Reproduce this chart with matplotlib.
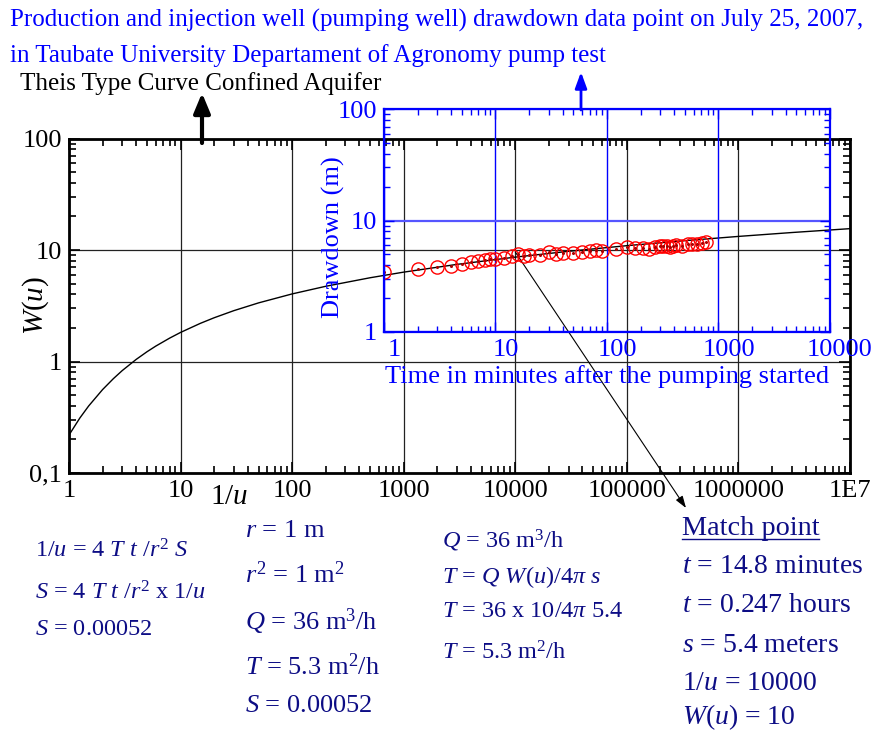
import matplotlib
matplotlib.use("Agg")
import matplotlib.pyplot as plt
import matplotlib.transforms as mtransforms
from matplotlib.lines import Line2D

W, H = 878, 733
BLUE = "#0000ff"
NAVY = "#0d0d85"

plt.rcParams["font.family"] = ["Liberation Serif", "DejaVu Serif"]
plt.rcParams["mathtext.fontset"] = "custom"
plt.rcParams["mathtext.rm"] = "Liberation Serif"
plt.rcParams["mathtext.it"] = "Liberation Serif:italic"
plt.rcParams["mathtext.bf"] = "Liberation Serif:bold"

# Theis type curve
inv_u = [1, 1.25, 1.5, 2, 2.5, 3, 4, 5, 6, 8, 10, 15, 20, 30, 50, 100, 200, 500,
         1e3, 3e3, 1e4, 3e4, 1e5, 3e5, 1e6, 3e6, 1e7]
wu = [0.219, 0.311, 0.399, 0.560, 0.702, 0.829, 1.044, 1.223, 1.375, 1.623, 1.823,
      2.196, 2.468, 2.857, 3.355, 4.038, 4.726, 5.639, 6.332, 7.43, 8.633, 9.73,
      10.936, 12.03, 13.238, 14.34, 15.541]

# field drawdown data (July 25, 2007)
t_min = [1, 2, 3, 4, 5, 6, 7, 8, 9, 10, 12, 14, 16, 18, 20, 25, 30, 35, 40, 50,
         60, 70, 80, 90, 120, 150, 180, 210, 240, 270, 300, 320, 345, 365, 390,
         420, 475, 530, 580, 645, 705, 780]
s_m = [3.44, 3.64, 3.84, 3.87, 4.08, 4.20, 4.29, 4.41, 4.47, 4.47, 4.62, 4.76,
       4.99, 4.79, 4.86, 4.86, 5.17, 4.96, 5.13, 5.06, 5.17, 5.28, 5.39, 5.28,
       5.53, 5.80, 5.65, 5.65, 5.53, 5.72, 5.84, 5.84, 5.84, 5.80, 5.90, 5.97,
       5.90, 6.13, 6.17, 6.17, 6.26, 6.39]

main_xticks = [1, 10, 100, 1e3, 1e4, 1e5, 1e6, 1e7]
main_xlabels = ["1", "10", "100", "1000", "10000", "100000", "1000000", "1E7"]
main_yticks = [0.1, 1, 10, 100]
main_ylabels = ["0,1", "1", "10", "100"]
ins_xticks = [1, 10, 100, 1000, 10000]
ins_xlabels = ["1", "10", "100", "1000", "10000"]
ins_yticks = [1, 10, 100]
ins_ylabels = ["1", "10", "100"]


def rect(l, r, t, b):
    return [l / W, 1 - b / H, (r - l) / W, (b - t) / H]


def ftext(x, y, s, **kw):
    fig.text(x / W, 1 - y / H, s, **kw)


fig = plt.figure(figsize=(W / 100, H / 100), dpi=100)

# main axes
ax = fig.add_axes(rect(69, 850, 138.5, 473))
ax.set_xscale("log")
ax.set_yscale("log")
ax.plot(inv_u, wu, color="k", lw=1)
ax.set_xlim(1, 1e7)
ax.set_ylim(0.1, 100)
ax.set_xticks(main_xticks, main_xlabels)
ax.set_yticks(main_yticks, main_ylabels)
ax.tick_params(which="both", direction="in", top=True, right=True, colors="k",
               labelsize=19, width=1.2)
ax.tick_params(which="major", length=8, pad=5)
ax.tick_params(which="minor", length=5)
ax.grid(which="major", color="#222222", lw=0.9)
for sp in ax.spines.values():
    sp.set_linewidth(2)
ftext(36, 305, "$W(u)$", rotation=90, ha="center", va="center", fontsize=21)
ftext(229, 504, "$1/u$", ha="center", va="baseline", fontsize=21)

# inset with the field data
ins = fig.add_axes(rect(384, 830, 109.3, 331.7))
ins.patch.set_alpha(0)
ins.set_xscale("log")
ins.set_yscale("log")
ins.plot(t_min, s_m, ls="none", marker="o", ms=9.5, mfc="none", mec="red", mew=1)
ins.plot(t_min, s_m, ls="none", marker="o", ms=1.2, color="#aa0000")
ins.set_xlim(1, 10000)
ins.set_ylim(1, 100)
ins.set_xticks(ins_xticks, ins_xlabels)
ins.set_yticks(ins_yticks, ins_ylabels)
ins.tick_params(which="both", direction="in", top=True, right=True, colors=BLUE,
                labelcolor=BLUE, labelsize=19, width=1)
ins.tick_params(which="major", length=7, pad=5)
ins.tick_params(which="minor", length=4)
ins.xaxis.grid(True, which="major", color=BLUE, lw=1)
ins.yaxis.grid(True, which="major", color="#5555ff", lw=1.6)
for sp in ins.spines.values():
    sp.set_color(BLUE)
    sp.set_linewidth(1.6)
shift = mtransforms.ScaledTranslation(10 / 100, 0, fig.dpi_scale_trans)
for lab in ins.get_xticklabels():
    lab.set_transform(lab.get_transform() + shift)
ftext(333, 237, "Drawdown (m)", rotation=90, ha="center", va="center",
      color=BLUE, fontsize=19)
ftext(385, 383, "Time in minutes after the pumping started", ha="left",
      va="baseline", color=BLUE, fontsize=19)

# titles
ftext(10, 27, "Production and injection well (pumping well) drawdown data point on July 25, 2007,",
      color=BLUE, fontsize=18, va="baseline")
ftext(10, 62, "in Taubate University Departament of Agronomy pump test",
      color=BLUE, fontsize=18, va="baseline")
ftext(20, 90, "Theis Type Curve Confined Aquifer", color="k", fontsize=18,
      va="baseline")

# arrows
ax.annotate("", xy=(202, H - 93), xytext=(202, H - 143), xycoords="figure pixels",
            arrowprops=dict(arrowstyle="-|>,head_length=0.6,head_width=0.25",
                            lw=3, color="k", mutation_scale=20, shrinkA=0, shrinkB=0),
            annotation_clip=False)
ax.annotate("", xy=(581, H - 72), xytext=(581, H - 110), xycoords="figure pixels",
            arrowprops=dict(arrowstyle="-|>,head_length=0.6,head_width=0.22",
                            lw=2, color=BLUE, mutation_scale=16, shrinkA=0, shrinkB=0),
            annotation_clip=False)
ax.annotate("", xy=(686, H - 508), xycoords="figure pixels",
            xytext=(1e4, 9.6), textcoords="data",
            arrowprops=dict(arrowstyle="-|>,head_length=0.6,head_width=0.2",
                            lw=0.8, color="k", mutation_scale=12, shrinkA=0, shrinkB=0),
            annotation_clip=False)

# worked calculation, column by column
col1 = [(557, r"$1/u$ = 4 $T$ $t$ /$r^2$ $S$"),
        (600, r"$S$ = 4 $T$ $t$ /$r^2$ x $1/u$"),
        (635, r"$S$ = 0.00052")]
for y, s in col1:
    ftext(35, y, s, color=NAVY, fontsize=17.5, va="baseline")

col2 = [(537, r"$r$ = 1 m"),
        (583, r"$r^2$ = 1 $\mathrm{m}^2$"),
        (630, r"$Q$ = 36 $\mathrm{m}^3$/h"),
        (675, r"$T$ = 5.3 $\mathrm{m}^2$/h"),
        (712, r"$S$ = 0.00052")]
for y, s in col2:
    ftext(245, y, s, color=NAVY, fontsize=19, va="baseline")

col3 = [(548, r"$Q$ = 36 $\mathrm{m}^3$/h"),
        (583, r"$T$ = $Q$ $W(u)$/4$\pi$ $s$"),
        (617, r"$T$ = 36 x 10/4$\pi$ 5.4"),
        (660, r"$T$ = 5.3 $\mathrm{m}^2$/h")]
for y, s in col3:
    ftext(442, y, s, color=NAVY, fontsize=17.5, va="baseline")

ftext(682, 535, "Match point", color=NAVY, fontsize=20.3, va="baseline")
fig.add_artist(Line2D([682 / W, 819 / W], [1 - 539 / H, 1 - 539 / H], color=NAVY, lw=1))
col4 = [(573, r"$t$ = 14.8 minutes"),
        (612, r"$t$ = 0.247 hours"),
        (652, r"$s$ = 5.4 meters"),
        (690, r"$1/u$ = 10000"),
        (724, r"$W(u)$ = 10")]
for y, s in col4:
    ftext(682, y, s, color=NAVY, fontsize=20, va="baseline")

fig.savefig("out.png", dpi=100)
